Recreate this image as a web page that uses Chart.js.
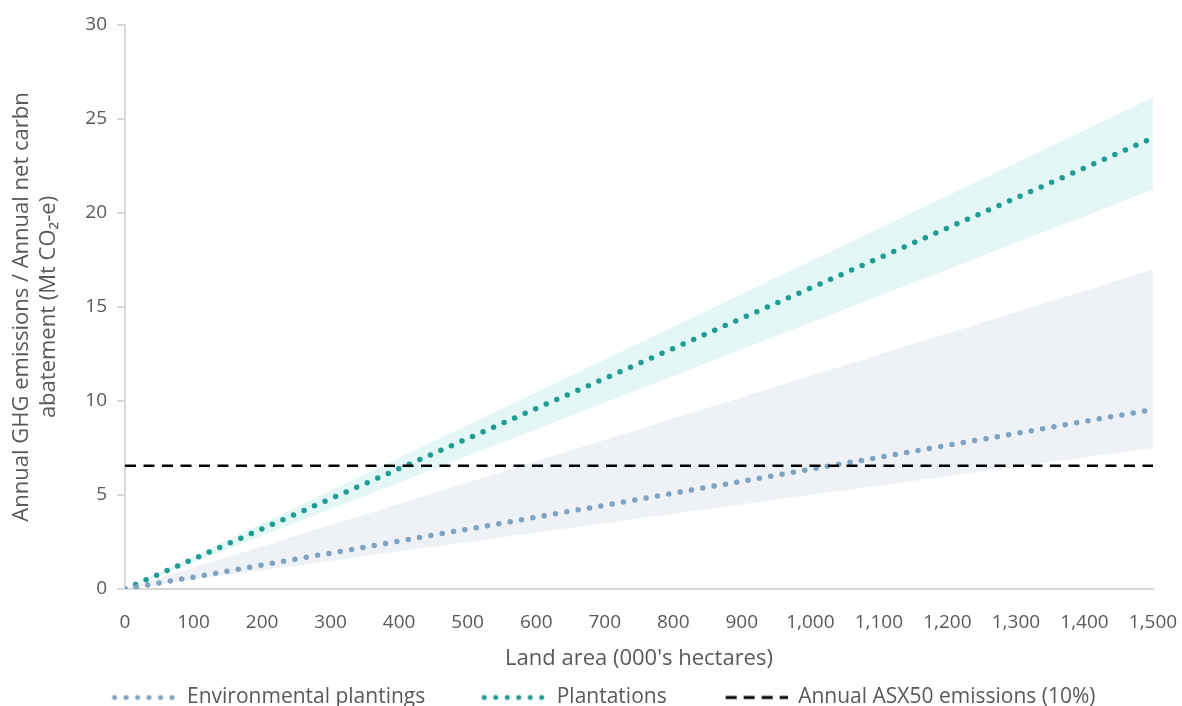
<!DOCTYPE html>
<html>
<head>
<meta charset="utf-8">
<script src="https://cdn.jsdelivr.net/npm/chart.js@4.4.1/dist/chart.umd.min.js"></script>
<style>
  html, body { margin: 0; padding: 0; background: #fff; overflow: hidden; }
  #wrap { width: 1182px; height: 718px; position: relative; }
</style>
</head>
<body>
<div id="wrap"><canvas id="miGrafico"></canvas></div>
<script>
// land area (000's hectares) at the two ends of each line
const area = [0, 1500];
const envLow = [0, 7.5];
const envMid = [0, 9.55];
const envHigh = [0, 17.0];
const plantLow = [0, 21.25];
const plantMid = [0, 24.0];
const plantHigh = [0, 26.15];
const asx50 = [6.55, 6.55];

const xTicks = [0, 100, 200, 300, 400, 500, 600, 700, 800, 900, 1000, 1100, 1200, 1300, 1400, 1500];
const yTicks = [0, 5, 10, 15, 20, 25, 30];

const tealDot = '#1f9c94';
const blueDot = '#7ea3c2';
const fontFam = "'Open Sans', sans-serif";

function pts(ys) {
    return area.map((x, i) => ({ x: x, y: ys[i] }));
}

// little legend pictures, gap on the left then the line sample
function legendImg(color, dash, width) {
    const c = document.createElement('canvas');
    c.width = 110; c.height = 8;
    const g = c.getContext('2d');
    g.strokeStyle = color;
    g.lineWidth = width;
    g.lineCap = dash[0] === 0 ? 'round' : 'butt';
    g.setLineDash(dash);
    g.beginPath();
    g.moveTo(48, 4);
    g.lineTo(110, 4);
    g.stroke();
    return c;
}

const imgEnv = legendImg(blueDot, [0, 11.5], 5);
const imgPlant = legendImg(tealDot, [0, 11.5], 5);
const imgAsx = legendImg('#000', [11, 7], 3);

const datos = {
    datasets: [
        { label: 'envLow', data: pts(envLow), borderWidth: 0, pointRadius: 0, fill: false, order: 5 },
        { label: 'envHigh', data: pts(envHigh), borderWidth: 0, pointRadius: 0, fill: '-1', backgroundColor: '#eef2f6', order: 5 },
        { label: 'plantLow', data: pts(plantLow), borderWidth: 0, pointRadius: 0, fill: false, order: 4 },
        { label: 'plantHigh', data: pts(plantHigh), borderWidth: 0, pointRadius: 0, fill: '-1', backgroundColor: '#e3f7f6', order: 4 },
        { label: 'Environmental plantings', data: pts(envMid), borderColor: blueDot, borderWidth: 5.5,
          borderDash: [0, 11.5], borderCapStyle: 'round', pointRadius: 0, fill: false, order: 1, legendImg: imgEnv },
        { label: 'Plantations', data: pts(plantMid), borderColor: tealDot, borderWidth: 5.5,
          borderDash: [0, 11.5], borderCapStyle: 'round', pointRadius: 0, fill: false, order: 1, legendImg: imgPlant },
        { label: 'Annual ASX50 emissions (10%)', data: pts(asx50), borderColor: '#000', borderWidth: 2.5,
          borderDash: [11, 7.5], pointRadius: 0, fill: false, order: 0, legendImg: imgAsx }
    ]
};

const grafico = new Chart(document.getElementById('miGrafico'), {
    type: 'line',
    data: datos,
    options: {
        responsive: true,
        maintainAspectRatio: false,
        animation: false,
        layout: { padding: { left: 9, right: 29, top: 25, bottom: 0 } },
        plugins: {
            tooltip: { enabled: false },
            legend: {
                position: 'bottom',
                labels: {
                    usePointStyle: true,
                    pointStyleWidth: 110,
                    padding: 11,
                    color: '#595959',
                    font: { family: fontFam, size: 21 },
                    filter: item => !!datos.datasets[item.datasetIndex].legendImg,
                    generateLabels: chart => chart.data.datasets.map((ds, i) => ({
                        text: ds.label,
                        pointStyle: ds.legendImg || 'line',
                        datasetIndex: i,
                        fontColor: '#595959',
                        lineWidth: 0,
                        strokeStyle: 'rgba(0,0,0,0)',
                        fillStyle: 'rgba(0,0,0,0)'
                    }))
                }
            }
        },
        scales: {
            x: {
                type: 'linear',
                min: 0,
                max: 1500,
                afterBuildTicks: axis => { axis.ticks = xTicks.map(v => ({ value: v })); },
                afterFit: axis => { axis.height = 87; },
                // invisible tick marks only to push the labels down
                grid: { display: true, drawOnChartArea: false, drawTicks: true, tickLength: 19, color: 'rgba(0,0,0,0)' },
                border: { color: '#d9d9d9', width: 2 },
                ticks: {
                    color: '#595959',
                    padding: 3,
                    maxRotation: 0,
                    autoSkip: false,
                    font: { family: fontFam, size: 19 },
                    callback: v => v.toLocaleString('en-US')
                },
                title: {
                    display: true,
                    text: "Land area (000's hectares)",
                    color: '#595959',
                    font: { family: fontFam, size: 22 },
                    padding: { top: 2, bottom: 4 }
                }
            },
            y: {
                min: 0,
                max: 30,
                afterBuildTicks: axis => { axis.ticks = yTicks.map(v => ({ value: v })); },
                afterFit: axis => { axis.width = 116; },
                grid: { display: true, drawOnChartArea: false, drawTicks: true, tickLength: 8, color: '#d9d9d9', lineWidth: 2 },
                border: { color: '#d9d9d9', width: 2 },
                ticks: {
                    color: '#595959',
                    padding: 10,
                    font: { family: fontFam, size: 19 }
                },
                title: {
                    display: true,
                    text: ['Annual GHG emissions / Annual net carbn', 'abatement (Mt CO\u2082-e)'],
                    color: '#595959',
                    font: { family: fontFam, size: 22 },
                    padding: { top: 0, bottom: 14 }
                }
            }
        }
    }
});
</script>
</body>
</html>
